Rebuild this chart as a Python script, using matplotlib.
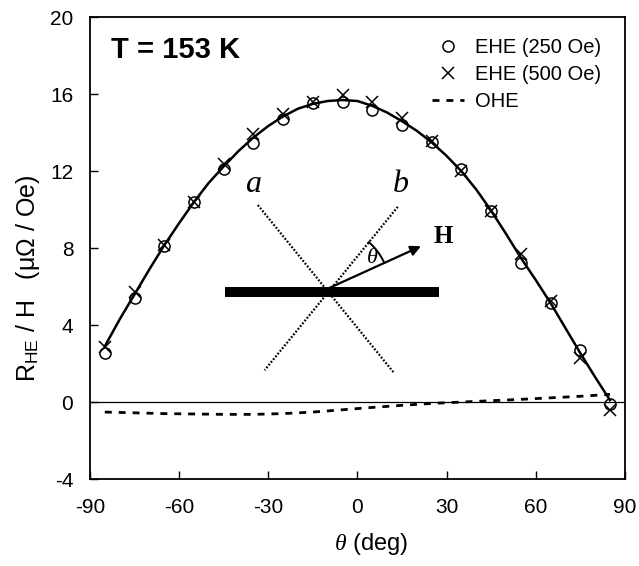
import matplotlib
matplotlib.use('Agg')
import matplotlib.pyplot as plt, numpy as np

plt.rcParams['font.family'] = ['Liberation Sans', 'DejaVu Sans']
plt.rcParams['mathtext.fontset'] = 'custom'
plt.rcParams['mathtext.rm'] = 'Liberation Sans'
plt.rcParams['mathtext.it'] = 'Liberation Serif:italic'
plt.rcParams['mathtext.bf'] = 'Liberation Sans:bold'
plt.rcParams['axes.unicode_minus'] = False

# Measured angles (deg)
theta = [-85, -75, -65, -55, -45, -35, -25, -15, -5, 5, 15, 25, 35, 45, 55, 65, 75, 85]
# EHE at 250 Oe and 500 Oe (uOhm/Oe)
ehe_250 = [2.55, 5.4, 8.1, 10.4, 12.1, 13.45, 14.7, 15.55, 15.6, 15.2, 14.4, 13.5, 12.1, 9.95, 7.25, 5.15, 2.7, -0.1]
ehe_500 = [2.85, 5.7, 8.15, 10.4, 12.35, 13.95, 15.0, 15.6, 15.95, 15.6, 14.75, 13.55, 12.0, 9.95, 7.7, 5.25, 2.3, -0.4]

# Fitted EHE curve
fit_theta = [-85, -80, -75, -70, -65, -60, -55, -50, -45, -40, -35, -30, -25, -20, -15, -10, -5,
             0, 5, 10, 15, 20, 25, 30, 35, 40, 45, 50, 55, 60, 65, 70, 75, 80, 85]
fit_val = [2.9, 4.3, 5.6, 6.9, 8.15, 9.3, 10.4, 11.4, 12.25, 13.05, 13.75, 14.35, 14.85, 15.25, 15.5,
           15.65, 15.7, 15.65, 15.4, 15.05, 14.6, 14.1, 13.5, 12.8, 12.0, 11.05, 9.95, 8.75, 7.5,
           6.35, 5.15, 3.85, 2.55, 1.3, 0.1]

# OHE contribution
ohe_val = [-0.52, -0.56, -0.6, -0.62, -0.64, -0.64, -0.6, -0.52, -0.4, -0.28, -0.17, -0.07,
           0.0, 0.07, 0.14, 0.22, 0.3, 0.4]

fig = plt.figure(figsize=(6.39, 5.66), dpi=100)
ax = fig.add_axes([0.1408, 0.1537, 0.837, 0.8157])

ax.axhline(0, color='black', lw=0.9, zorder=1)
ax.plot(fit_theta, fit_val, color='black', lw=1.8, zorder=2)
ax.plot(theta, ehe_250, 'o', mfc='none', mec='black', ms=8, mew=1.1, label='EHE (250 Oe)', zorder=3)
ax.plot(theta, ehe_500, 'x', color='black', ms=8.5, mew=1.1, label='EHE (500 Oe)', zorder=3)
ax.plot(theta, ohe_val, color='black', lw=2.0, ls=(0, (2.5, 2.5)), label='OHE', zorder=2)

ax.set_xlim(-90, 90)
ax.set_ylim(-4, 20)
ax.set_xticks(np.arange(-90, 91, 30))
ax.set_yticks(np.arange(-4, 21, 4))
ax.tick_params(direction='in', length=6, width=1, labelsize=15, right=False, top=False)
ax.tick_params(axis='x', pad=14)
ax.tick_params(axis='y', pad=12)
for s in ax.spines.values():
    s.set_linewidth(1.3)

ax.set_xlabel(r'$\mathit{\theta}$ (deg)', fontsize=17)
ax.set_ylabel(r'R$_\mathregular{HE}$ / H   (μΩ / Oe)', fontsize=18)
ax.xaxis.set_label_coords(0.525, -0.113)
ax.yaxis.set_label_coords(-0.09, 0.435)

ax.text(-83, 18.3, 'T = 153 K', fontsize=21, fontweight='bold', ha='left', va='center')

leg = ax.legend(loc='upper right', frameon=False, fontsize=14.5, handlelength=1.6,
                handletextpad=0.5, labelspacing=0.4, borderaxespad=0.4,
                bbox_to_anchor=(0.985, 0.99))

# Inset sketch: film, a/b axes and field direction
x0, y0 = -9.6, 5.92
ax.plot([-44.7, 27.6], [5.72, 5.72], color='black', lw=7.2, solid_capstyle='butt', zorder=2)
ax.plot([-33.5, 12.45], [10.24, 1.49], color='black', lw=1.6, ls=(0, (0.8, 0.8)), zorder=2)
ax.plot([13.6, -31.2], [10.15, 1.66], color='black', lw=1.6, ls=(0, (0.8, 0.8)), zorder=2)
ax.annotate('', xy=(21.4, 8.1), xytext=(x0, y0),
            arrowprops=dict(arrowstyle='-|>', lw=1.6, color='black', mutation_scale=15,
                            shrinkA=0, shrinkB=0))
t = np.radians(np.linspace(24.5, 49, 30))
ax.plot(x0 + 61 * np.cos(t) / 2.977, y0 + 61 * np.sin(t) / 19.24, color='black', lw=1.4)
ax.text(5.2, 7.45, 'θ', fontsize=16, family='Liberation Serif', style='italic', ha='center', va='center')
ax.text(-35.1, 11.3, 'a', fontsize=23, family='Liberation Serif', style='italic', ha='center', va='center')
ax.text(14.7, 11.3, 'b', fontsize=23, family='Liberation Serif', style='italic', ha='center', va='center')
ax.text(29.0, 8.6, 'H', fontsize=18, family='Liberation Serif', fontweight='bold', ha='center', va='center')

plt.savefig('out.png', dpi=100)
